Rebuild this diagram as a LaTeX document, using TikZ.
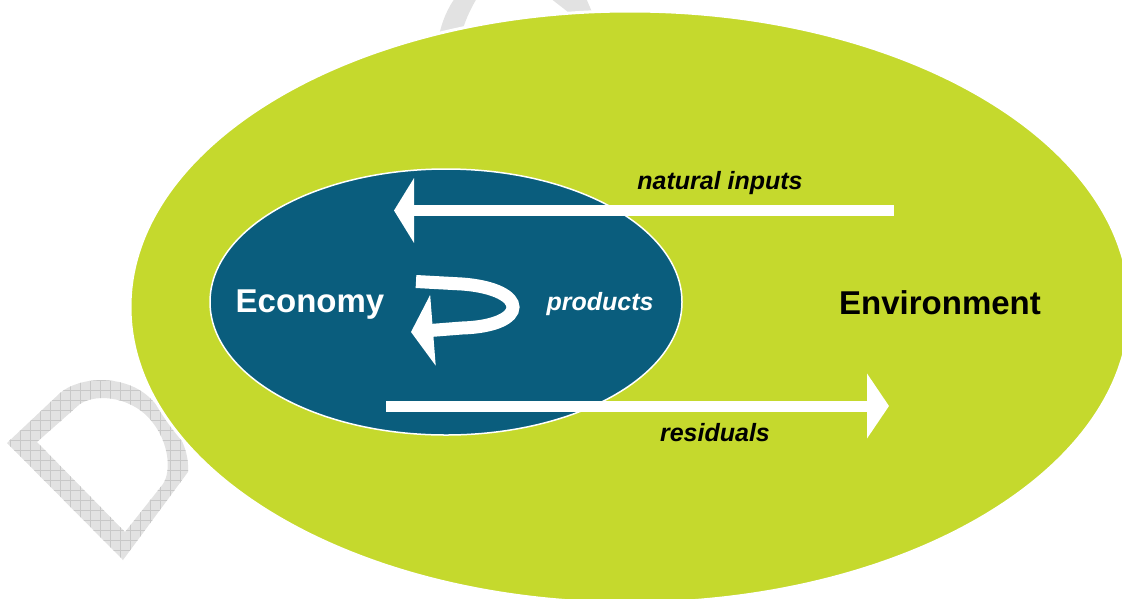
\documentclass[tikz,border=0pt]{standalone}
\usepackage{fontspec}
\setmainfont{Liberation Sans}
\usetikzlibrary{arrows.meta}
\definecolor{envgreen}{HTML}{C5D92D}
\definecolor{ecoblue}{HTML}{0A5D7D}
\definecolor{wmgray}{HTML}{E2E2E2}
\definecolor{wmline}{HTML}{C8C8C8}
\tikzset{
  bigword/.style={font=\bfseries\fontsize{33}{36}\selectfont, inner sep=0pt},
  flowword/.style={font=\bfseries\itshape\fontsize{25}{28}\selectfont, inner sep=0pt},
  flowarrow/.style={white, line width=11pt},
}
\begin{document}
\begin{tikzpicture}[x=1pt,y=-1pt]
\useasboundingbox (0,0) rectangle (1122,598);
% watermark (behind)
\begin{scope}[even odd rule]
  \clip
    (7,443) -- (60,393) .. controls (80,376) and (125,374) .. (150,398)
    .. controls (172,420) and (190,445) .. (188,472) -- (123,560) -- cycle
    (37,442) -- (80,404) .. controls (98,392) and (135,398) .. (153,423)
    .. controls (168,442) and (172,470) .. (163,484) -- (125,532) -- cycle;
  \fill[wmgray] (0,360) rectangle (210,598);
  \draw[wmline, line width=0.6pt, step=10pt] (0,360) grid (210,598);
\end{scope}
\begin{scope}
  \clip (420,-5) rectangle (610,60);
  \fill[wmgray] (438,40) .. controls (442,20) and (448,8) .. (455,-2) -- (477,-2)
    .. controls (470,10) and (464,22) .. (460,40) -- cycle;
  \fill[wmgray] (550,-2) -- (568,12) -- (592,12) -- (586,-2) -- cycle;
\end{scope}
% ellipses
\fill[envgreen, draw=white, line width=3pt] (630,307) ellipse [x radius=500, y radius=296];
\fill[ecoblue, draw=white, line width=1.5pt] (446,302) ellipse [x radius=236, y radius=133];
% arrows
\coordinate (niS) at (894,210.5);
\coordinate (niE) at (394,210.5);
\coordinate (reS) at (386,406);
\coordinate (reE) at (889,406);
\coordinate (prS) at (416,281.5);
\coordinate (prE) at (411,332);
\draw[flowarrow, -{Triangle[length=20pt,width=64pt]}] (niS) -- (niE);
\draw[flowarrow, -{Triangle[length=22pt,width=64pt]}] (reS) -- (reE);
\draw[white, line width=13pt, -{Triangle[length=22pt,width=70pt]}]
  (prS) -- (462,284) .. controls (530,289) and (530,326) .. (462,328) -- (prE);
% labels
\node[bigword, white] (economy) at (310,305) {Economy};
\node[bigword, black] (environment) at (940,303) {Environment};
\node[flowword, white] (products) at (600,304) {products};
\node[flowword, black] (natural) at (720,183) {natural inputs};
\node[flowword, black] (residuals) at (715,433) {residuals};
\end{tikzpicture}
\end{document}
